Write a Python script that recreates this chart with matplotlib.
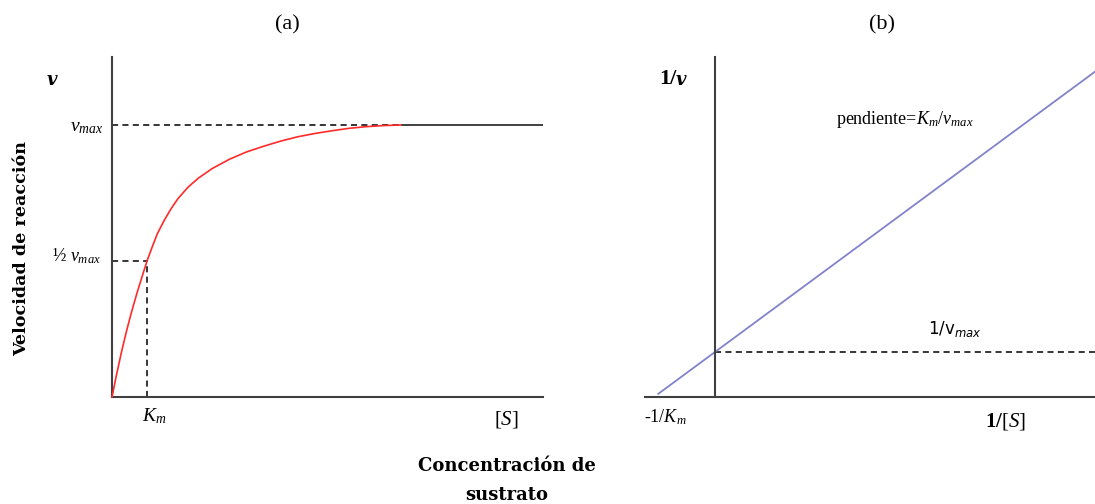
import matplotlib
matplotlib.use("Agg")
import matplotlib.pyplot as plt

plt.rcParams['mathtext.fontset'] = 'custom'
plt.rcParams['mathtext.rm'] = 'Liberation Serif'
plt.rcParams['mathtext.it'] = 'Liberation Serif:italic'
plt.rcParams['mathtext.bf'] = 'Liberation Serif:bold'

# ---- data (panel a: substrate concentration in Km units, velocity in vmax units)
s_conc = [0.0, 0.118, 0.265, 0.412, 0.559, 0.706, 0.853, 1.0, 1.147, 1.294,
          1.490, 1.686, 1.882, 2.176, 2.471, 2.863, 3.353, 3.843, 4.333, 4.824,
          5.314, 5.804, 6.294, 6.784, 7.275, 7.765, 8.25]
velocity = [0.0, 0.075, 0.162, 0.241, 0.313, 0.379, 0.440, 0.5, 0.551, 0.600,
            0.649, 0.692, 0.729, 0.772, 0.805, 0.840, 0.874, 0.901, 0.922, 0.941,
            0.957, 0.969, 0.979, 0.988, 0.994, 0.998, 1.0]
vmax = 1.0
km = 1.0
s_end = 12.31

# ---- data (panel b: Lineweaver-Burk, 1/[S] in 1/Km units, 1/v in 1/vmax units)
inv_s = [-0.93, 6.23]
inv_v = [0.07, 7.23]
inv_vmax = 1.0

W, H = 1095, 504
fig = plt.figure(figsize=(W / 100, H / 100), dpi=100)

def fx(px):
    return px / W

def fy(py):
    return 1 - py / H

axis_col = '#404040'
dash = (0, (4.0, 2.8))

# ---------------- panel (a)
ax1 = fig.add_axes([fx(112), fy(397), (543 - 112) / W, (397 - 57) / H])
ax1.set_xlim(0, s_end)
ax1.set_ylim(0, 340 / 272.0)
for sp in ['top', 'right']:
    ax1.spines[sp].set_visible(False)
for sp in ['left', 'bottom']:
    ax1.spines[sp].set_color(axis_col)
    ax1.spines[sp].set_linewidth(1.5)
ax1.set_xticks([])
ax1.set_yticks([])
ax1.patch.set_alpha(0)

ax1.plot([0, s_conc[-1]], [vmax, vmax], color='black', lw=1.1, linestyle=dash)
ax1.plot([s_conc[-1], s_end], [vmax, vmax], color=axis_col, lw=1.4, solid_capstyle='butt')
ax1.plot([0, km], [vmax / 2, vmax / 2], color='black', lw=1.1, linestyle=dash)
ax1.plot([km, km], [0, vmax / 2], color='black', lw=1.1, linestyle=dash)
ax1.plot(s_conc, velocity, color='#ff2a2a', lw=1.2, clip_on=False, zorder=5,
         solid_joinstyle='round')

# ---------------- panel (b)
ax2 = fig.add_axes([fx(645), fy(397), (1095 - 645) / W, (397 - 57) / H])
ax2.set_xlim(-70 / 61, 380 / 61)
ax2.set_ylim(0, 340 / 45)
for sp in ['top', 'right']:
    ax2.spines[sp].set_visible(False)
ax2.spines['left'].set_position(('data', 0))
for sp in ['left', 'bottom']:
    ax2.spines[sp].set_color(axis_col)
    ax2.spines[sp].set_linewidth(1.5)
ax2.set_xticks([])
ax2.set_yticks([])
ax2.patch.set_alpha(0)

ax2.plot([0, 380 / 61], [inv_vmax, inv_vmax], color='black', lw=1.1, linestyle=dash)
ax2.plot(inv_s, inv_v, color='#8282cc', lw=1.3)

# ---------------- texts
serif = 'Liberation Serif'
bold_serif = 'DejaVu Serif'

fig.text(fx(287), fy(25), '(a)', family=serif, fontsize=16, ha='center', va='center')
fig.text(fx(882), fy(25), '(b)', family=serif, fontsize=16, ha='center', va='center')

fig.text(fx(52), fy(80), 'v', family=bold_serif, fontsize=13, fontweight='bold',
         style='italic', ha='center', va='center')
fig.text(fx(103), fy(126), r'$v_{max}$', fontsize=14, ha='right', va='center')
fig.text(fx(101), fy(256), r'½ $v_{max}$', family=serif, fontsize=13, ha='right', va='center')
fig.text(fx(154), fy(416), r'$K_m$', fontsize=14, ha='center', va='center')
fig.text(fx(506), fy(420), r'$[S]$', family=serif, fontsize=15, ha='center', va='center')
fig.text(fx(22), fy(248), 'Velocidad de reacción', family=bold_serif, fontsize=12.6,
         fontweight='bold', rotation=90, ha='center', va='center')
fig.text(fx(507), fy(466), 'Concentración de', family=bold_serif, fontsize=13,
         fontweight='bold', ha='center', va='center')
fig.text(fx(507), fy(495), 'sustrato', family=bold_serif, fontsize=13,
         fontweight='bold', ha='center', va='center')

fig.text(fx(676), fy(79), '1/', family=serif, fontsize=16, fontweight='bold',
         ha='right', va='center')
fig.text(fx(676), fy(80), 'v', family=bold_serif, fontsize=13, fontweight='bold',
         style='italic', ha='left', va='center')
fig.text(fx(905), fy(119), r'pendiente=$K_m/v_{max}$', family=serif, fontsize=13,
         ha='center', va='center')
fig.text(fx(955), fy(329), r'$\mathrm{1/v}_{\mathit{max}}$', math_fontfamily='dejavusans',
         fontsize=12, ha='center', va='center')
fig.text(fx(665), fy(417), r'-1/$K_m$', family=serif, fontsize=13, ha='center', va='center')
fig.text(fx(1006), fy(421), r'1/$[S]$', family=serif, fontsize=15, fontweight='bold',
         ha='center', va='center')

fig.savefig('out.png', dpi=100)
